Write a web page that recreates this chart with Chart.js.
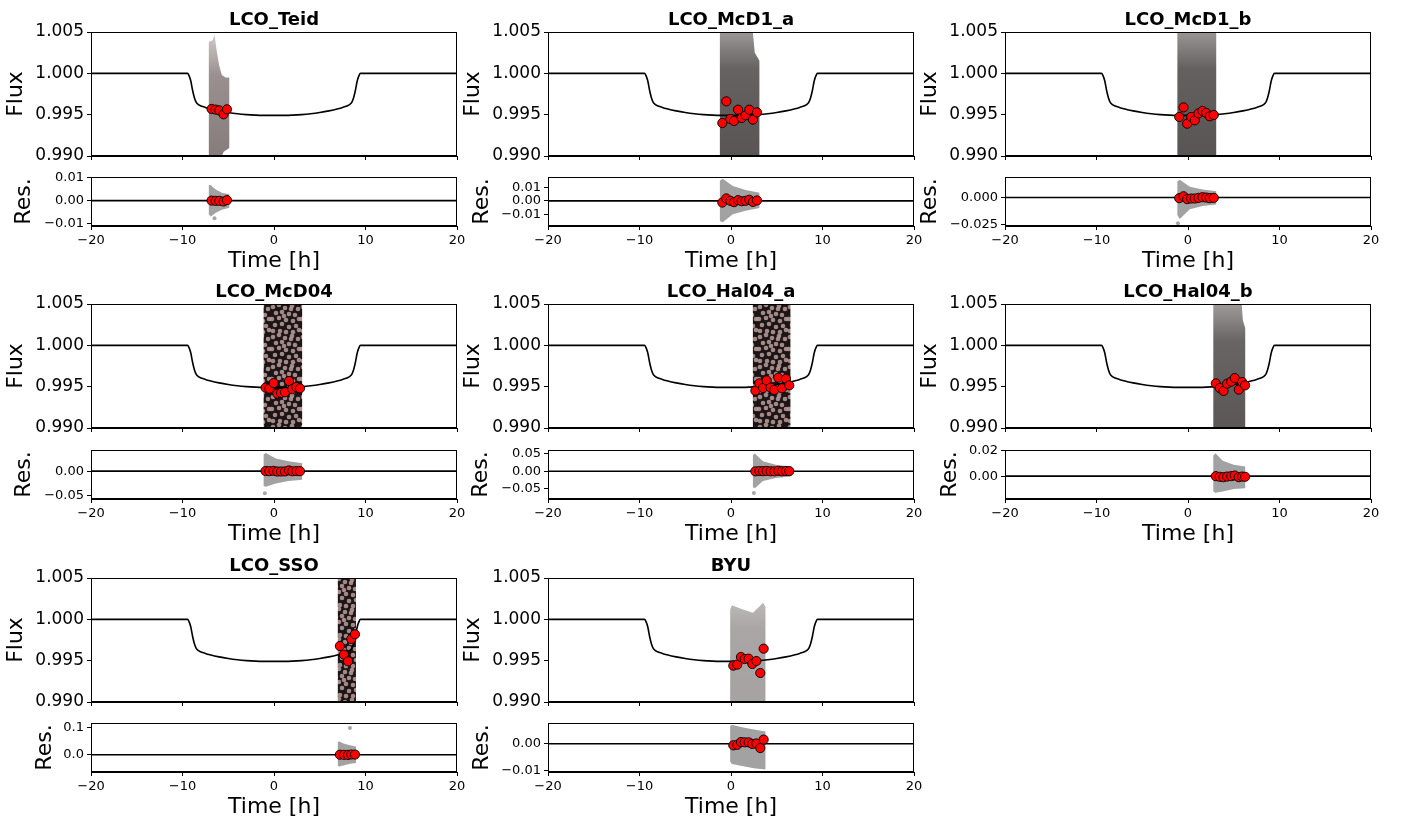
<!DOCTYPE html>
<html>
<head>
<meta charset="utf-8">
<script src="https://cdn.jsdelivr.net/npm/chart.js@4.4.1/dist/chart.umd.min.js"></script>
<style>
  html, body { margin: 0; background: #fff; }
  #fig { position: relative; width: 1406px; height: 828px; overflow: hidden; }
  #fig canvas { position: absolute; }
</style>
</head>
<body>
<div id="fig"></div>
<script>
// ===============================
// DATA
// ===============================
const titles = ['LCO_Teid', 'LCO_McD1_a', 'LCO_McD1_b', 'LCO_McD04', 'LCO_Hal04_a', 'LCO_Hal04_b', 'LCO_SSO', 'BYU'];

// transit model (same for every panel)
const modelTime = [-20, -9.45, -9.3, -9.1, -8.9, -8.7, -8.5, -8.3, -8.1, -7.5, -7, -6, -5, -4, -3, -2, -1, 0,
  1, 2, 3, 4, 5, 6, 7, 7.5, 8.1, 8.3, 8.5, 8.7, 8.9, 9.1, 9.3, 9.45, 20];
const modelFlux = [1.0, 1.0, 0.99975, 0.9991, 0.99795, 0.99705, 0.9965, 0.99625, 0.99612, 0.99588, 0.99572, 0.99546, 0.99526, 0.99511, 0.99501, 0.99495, 0.99492, 0.99491,
  0.99492, 0.99495, 0.99501, 0.99511, 0.99526, 0.99546, 0.99572, 0.99588, 0.99612, 0.99625, 0.9965, 0.99705, 0.99795, 0.9991, 0.99975, 1.0, 1.0];

// binned points (red)
const binTime = [
  [-6.82, -6.38, -5.98, -5.51, -5.14],
  [-0.95, -0.51, -0.07, 0.33, 0.77, 1.17, 1.60, 2.00, 2.40, 2.84],
  [-0.96, -0.49, -0.09, 0.35, 0.74, 1.15, 1.58, 1.99, 2.38, 2.82],
  [-0.92, -0.51, -0.04, 0.36, 0.77, 1.20, 1.64, 2.00, 2.44, 2.84],
  [2.66, 3.10, 3.50, 3.90, 4.33, 4.73, 5.17, 5.57, 6.00, 6.37],
  [3.04, 3.47, 3.88, 4.28, 4.72, 5.11, 5.55, 5.92, 6.24],
  [7.20, 7.65, 8.09, 8.45, 8.85],
  [0.25, 0.69, 1.09, 1.50, 1.93, 2.33, 2.77, 3.20, 3.57]
];
const binFlux = [
  [0.99569, 0.99561, 0.99552, 0.99504, 0.99565],
  [0.99399, 0.99661, 0.99448, 0.99424, 0.99560, 0.99460, 0.99492, 0.99560, 0.99440, 0.99528],
  [0.99472, 0.99588, 0.99391, 0.99472, 0.99431, 0.99516, 0.99545, 0.99521, 0.99480, 0.99496],
  [0.99488, 0.99476, 0.99544, 0.99416, 0.99424, 0.99432, 0.99568, 0.99472, 0.99496, 0.99480],
  [0.99452, 0.99540, 0.99484, 0.99576, 0.99488, 0.99460, 0.99608, 0.99480, 0.99596, 0.99516],
  [0.99540, 0.99484, 0.99448, 0.99536, 0.99560, 0.99604, 0.99464, 0.99556, 0.99516],
  [0.99677, 0.99573, 0.99492, 0.99762, 0.99819],
  [0.99440, 0.99452, 0.99544, 0.99520, 0.99524, 0.99460, 0.99496, 0.99351, 0.99645]
];
const binRes = [
  [0.0000, -0.0001, -0.0001, -0.0004, 0.0002],
  [-0.0013, 0.0018, 0.0000, -0.0010, 0.0005, -0.0003, 0.0000, 0.0008, -0.0008, 0.0003],
  [-0.0006, 0.0012, -0.0015, -0.0009, -0.0009, -0.0003, 0.0003, 0.0000, -0.0006, -0.0003],
  [0.0003, 0.0000, 0.0006, -0.0007, -0.0007, -0.0005, 0.0014, -0.0002, 0.0002, 0.0000],
  [-0.0004, 0.0004, 0.0000, 0.0008, -0.0002, -0.0004, 0.0010, -0.0002, 0.0006, 0.0002],
  [0.0000, -0.0005, -0.0008, -0.0003, 0.0000, 0.0005, -0.0008, -0.0003, -0.0005],
  [0.0000, -0.0005, -0.0008, 0.0008, 0.0005],
  [-0.0006, -0.0004, 0.0006, 0.0005, 0.0005, -0.0001, 0.0001, -0.0016, 0.0015]
];

// raw data envelope (grey band) in the flux panels
const rawTopTime = [
  [-7.15, -6.7, -6.5, -6.3, -6.0, -5.7, -5.3, -4.86],
  [-1.24, 2.3, 2.6, 3.13],
  [-1.18, 3.11],
  [-1.16, 3.10],
  [2.37, 6.52],
  [2.75, 5.8, 6.0, 6.28],
  [6.95, 8.96],
  [-0.1, 0.1, 1.3, 2.4, 3.5, 3.79]
];
const rawTopFlux = [
  [1.0038, 1.0040, 1.0047, 1.0030, 1.0010, 0.9998, 0.9995, 0.9995],
  [1.006, 1.006, 1.0025, 1.0015],
  [1.006, 1.006],
  [1.006, 1.006],
  [1.006, 1.006],
  [1.006, 1.006, 1.003, 1.002],
  [1.006, 1.006],
  [1.0012, 1.0017, 1.0012, 1.0008, 1.0020, 1.0015]
];
const rawBottomTime = [
  [-7.15, -5.9, -5.5, -4.86],
  [-1.24, 3.13],
  [-1.18, 3.11],
  [-1.16, 3.10],
  [2.37, 6.52],
  [2.75, 6.28],
  [6.95, 8.96],
  [-0.1, 3.79]
];
const rawBottomFlux = [
  [0.9895, 0.9895, 0.9905, 0.9910],
  [0.989, 0.989],
  [0.989, 0.989],
  [0.989, 0.989],
  [0.989, 0.989],
  [0.989, 0.989],
  [0.989, 0.989],
  [0.9897, 0.9897]
];

// raw residual envelope
const resEnvTime = [
  [-7.15, -6.9, -6.4, -5.7, -4.86],
  [-1.24, -0.9, 0.2, 1.6, 3.13],
  [-1.18, -0.9, 0.2, 1.6, 3.11],
  [-1.16, -0.9, 0.2, 1.6, 3.10],
  [2.37, 2.6, 3.5, 4.9, 6.52],
  [2.75, 3.0, 3.8, 5.0, 6.28],
  [6.95, 7.1, 7.6, 8.3, 8.96],
  [-0.1, 0.1, 1.2, 2.5, 3.79]
];
const resEnvHigh = [
  [0.0070, 0.0068, 0.0050, 0.0035, 0.0028],
  [0.0150, 0.0165, 0.0110, 0.0080, 0.0060],
  [0.0150, 0.0167, 0.0100, 0.0075, 0.0059],
  [0.034, 0.037, 0.026, 0.020, 0.016],
  [0.045, 0.050, 0.028, 0.018, 0.013],
  [0.016, 0.018, 0.012, 0.009, 0.0075],
  [0.045, 0.050, 0.042, 0.035, 0.031],
  [0.0065, 0.0070, 0.0060, 0.0052, 0.0045]
];
const resEnvLow = [
  [-0.0060, -0.0070, -0.0055, -0.0040, -0.0031],
  [-0.0150, -0.0160, -0.0100, -0.0075, -0.0054],
  [-0.016, -0.020, -0.011, -0.008, -0.0065],
  [-0.030, -0.032, -0.025, -0.020, -0.0176],
  [-0.045, -0.048, -0.028, -0.019, -0.015],
  [-0.012, -0.013, -0.012, -0.010, -0.0094],
  [-0.040, -0.044, -0.040, -0.034, -0.031],
  [-0.0065, -0.0075, -0.0082, -0.0090, -0.0095]
];
// isolated residual outliers
const resOutTime = [[-6.5], [], [-1.1], [-1.0], [2.5], [], [8.3], []];
const resOutValue = [[-0.0078], [], [-0.024], [-0.045], [-0.062], [], [0.1], []];

// axes
const timeTicks = [-20, -10, 0, 10, 20];
const fluxTicks = [0.990, 0.995, 1.000, 1.005];
const resMin = [-0.0112, -0.0188, -0.0266, -0.0567, -0.0787, -0.0179, -0.0648, -0.0104];
const resMax = [0.0104, 0.0178, 0.0192, 0.0431, 0.0600, 0.0205, 0.1187, 0.0076];
const resTicks = [[-0.01, 0, 0.01], [-0.01, 0, 0.01], [-0.025, 0], [-0.05, 0], [-0.05, 0, 0.05], [0, 0.02], [0, 0.1], [-0.01, 0]];
const resDecimals = [2, 2, 3, 2, 2, 2, 1, 2];

// ===============================
// STYLE / LAYOUT
// ===============================
const FONT = '"DejaVu Sans", sans-serif';
const colLeft = [91, 548, 1005];
const fluxTop = [32, 304, 578];
const resTop = [177, 450, 723];
const PLOT_W = 366, FLUX_H = 124, RES_H = 49, AXIS_W = 90, RIGHT_PAD = 16;
// vertical gradient stops for the raw-data band, or 'dots' for the dense mottled bands
const bandStyle = [
  [[0, '#d4cccc'], [0.35, '#9a9090'], [1, '#867c7c']],
  [[0, '#9c9797'], [0.3, '#676262'], [1, '#5a5555']],
  [[0, '#9a9595'], [0.3, '#656060'], [1, '#5a5555']],
  'dots', 'dots',
  [[0, '#a09b9b'], [0.3, '#6a6565'], [1, '#5c5757']],
  'dots',
  [[0, '#d0cccc'], [0.4, '#aaa6a6'], [1, '#a6a2a2']]
];
// texture tile (30x30) for the dense bands
const dotTile = [[2, 3], [8, 1], [14, 4], [21, 2], [27, 5], [5, 9], [11, 8], [18, 10], [24, 11], [1, 15], [8, 14], [15, 16],
  [22, 17], [28, 15], [4, 21], [11, 20], [18, 23], [25, 22], [2, 27], [9, 27], [15, 28], [22, 28], [28, 26], [13, 12], [20, 5]];
const resBandColor = '#a2a2a2';
const resLabelPad = [10, 11, 2.5, 10, 10.5, 22, 31, 11];

const framePlugin = {
  id: 'frame',
  afterDraw(chart, args, opts) {
    const { ctx, chartArea: a } = chart;
    ctx.save();
    ctx.strokeStyle = '#000';
    ctx.lineWidth = 1;
    const l = Math.round(a.left) + 0.5, t = Math.round(a.top) + 0.5;
    const r = Math.round(a.right) - 0.5, b = Math.round(a.bottom) - 0.5;
    ctx.strokeRect(l, t, r - l, b - t);
    if (opts.title) {
      ctx.font = 'bold 18px ' + FONT;
      ctx.fillStyle = '#000';
      ctx.textAlign = 'center';
      ctx.textBaseline = 'alphabetic';
      ctx.fillText(opts.title, (a.left + a.right) / 2, a.top - 7);
    }
    ctx.restore();
  }
};

// ===============================
// HELPERS
// ===============================
function fmt(v, dec) {
  const s = Math.abs(v).toFixed(dec);
  return (v < 0 && Number(s) !== 0 ? '\u2212' : '') + s;
}

function points(xs, ys) {
  return xs.map((x, i) => ({ x, y: ys[i] }));
}

function addCanvas(left, top, w, h) {
  const c = document.createElement('canvas');
  c.width = w; c.height = h;
  c.style.left = left + 'px';
  c.style.top = top + 'px';
  c.style.width = w + 'px';
  c.style.height = h + 'px';
  document.getElementById('fig').appendChild(c);
  return c;
}

let dotPattern = null;
function getDotPattern(ctx) {
  if (dotPattern) return dotPattern;
  const n = 30;
  const tile = document.createElement('canvas');
  tile.width = n; tile.height = n;
  const t = tile.getContext('2d');
  t.fillStyle = '#1c1515';
  t.fillRect(0, 0, n, n);
  t.fillStyle = 'rgba(186,156,154,0.85)';
  dotTile.forEach(([x, y]) => {
    for (const dx of [-n, 0, n]) for (const dy of [-n, 0, n]) {
      t.beginPath();
      t.arc(x + dx, y + dy, 2.3, 0, Math.PI * 2);
      t.fill();
    }
  });
  dotPattern = ctx.createPattern(tile, 'repeat');
  return dotPattern;
}

function bandFill(style) {
  return context => {
    const chart = context.chart;
    const a = chart.chartArea;
    if (!a) return '#777';
    if (style === 'dots') return getDotPattern(chart.ctx);
    const g = chart.ctx.createLinearGradient(0, a.top, 0, a.bottom);
    style.forEach(([s, c]) => g.addColorStop(s, c));
    return g;
  };
}

function gridOpts() {
  return { display: true, drawOnChartArea: false, drawTicks: true, tickLength: 4, tickColor: '#000', tickWidth: 1 };
}

function fixedTicks(values) {
  return s => { s.ticks = values.map(v => ({ value: v })); };
}

function redDataset(xs, ys) {
  return {
    data: points(xs, ys), showLine: false, order: 0,
    pointRadius: 4.6, pointHoverRadius: 4.6,
    pointBackgroundColor: '#ff0000', pointBorderColor: '#000', pointBorderWidth: 0.9
  };
}

function lineDataset(xs, ys, smooth) {
  return {
    data: points(xs, ys), showLine: true, order: 1,
    borderColor: '#000', borderWidth: 1.6, pointRadius: 0,
    cubicInterpolationMode: smooth ? 'monotone' : 'default', fill: false
  };
}

function bandDatasets(tx, ty, bx, by, color) {
  return [
    { data: points(tx, ty), showLine: true, order: 2, borderWidth: 0, pointRadius: 0, fill: '+1', backgroundColor: color, borderColor: 'rgba(0,0,0,0)' },
    { data: points(bx, by), showLine: true, order: 3, borderWidth: 0, pointRadius: 0, fill: false, borderColor: 'rgba(0,0,0,0)' }
  ];
}

const baseOptions = () => ({
  responsive: false, animation: false, devicePixelRatio: 1,
  plugins: { legend: { display: false }, tooltip: { enabled: false } },
  events: []
});

// ===============================
// PANELS
// ===============================
function renderFlux(i) {
  const left = colLeft[i % 3] - AXIS_W, top = fluxTop[Math.floor(i / 3)] - 30;
  const canvas = addCanvas(left, top, AXIS_W + PLOT_W + RIGHT_PAD, 30 + FLUX_H + 16);
  const opts = baseOptions();
  opts.layout = { padding: { top: 30, right: RIGHT_PAD, left: 0, bottom: 0 } };
  opts.plugins.frame = { title: titles[i] };
  opts.scales = {
    x: {
      type: 'linear', min: -20, max: 20,
      afterBuildTicks: fixedTicks(timeTicks),
      afterFit: s => { s.height = 16; },
      ticks: { display: false },
      grid: gridOpts(), border: { display: true, color: '#000', width: 1 }
    },
    y: {
      type: 'linear', min: 0.990, max: 1.005,
      afterBuildTicks: fixedTicks(fluxTicks),
      afterFit: s => { s.width = AXIS_W; },
      ticks: { callback: v => fmt(v, 3), font: { family: FONT, size: 17 }, color: '#000', padding: 3 },
      grid: gridOpts(), border: { display: true, color: '#000', width: 1 },
      title: { display: true, text: 'Flux', font: { family: FONT, size: 22 }, color: '#000', padding: { top: 2.5, bottom: 0 } }
    }
  };
  new Chart(canvas.getContext('2d'), {
    type: 'line',
    data: {
      datasets: [
        redDataset(binTime[i], binFlux[i]),
        lineDataset(modelTime, modelFlux, true),
        ...bandDatasets(rawTopTime[i], rawTopFlux[i], rawBottomTime[i], rawBottomFlux[i], bandFill(bandStyle[i]))
      ]
    },
    options: opts,
    plugins: [framePlugin]
  });
}

function renderRes(i) {
  const left = colLeft[i % 3] - AXIS_W, top = resTop[Math.floor(i / 3)] - 12;
  const canvas = addCanvas(left, top, AXIS_W + PLOT_W + RIGHT_PAD, 12 + RES_H + 50);
  const opts = baseOptions();
  opts.layout = { padding: { top: 12, right: RIGHT_PAD, left: 0, bottom: 0 } };
  opts.plugins.frame = {};
  opts.scales = {
    x: {
      type: 'linear', min: -20, max: 20,
      afterBuildTicks: fixedTicks(timeTicks),
      afterFit: s => { s.height = 50; },
      ticks: { callback: v => fmt(v, 0), font: { family: FONT, size: 13 }, color: '#000', padding: 3, maxRotation: 0, autoSkip: false },
      grid: gridOpts(), border: { display: true, color: '#000', width: 1 },
      title: { display: true, text: 'Time [h]', font: { family: FONT, size: 22 }, color: '#000', padding: { top: 0, bottom: 2 } }
    },
    y: {
      type: 'linear', min: resMin[i], max: resMax[i],
      afterBuildTicks: fixedTicks(resTicks[i]),
      afterFit: s => { s.width = AXIS_W; },
      ticks: { callback: v => fmt(v, resDecimals[i]), font: { family: FONT, size: 13 }, color: '#000', padding: 3 },
      grid: gridOpts(), border: { display: true, color: '#000', width: 1 },
      title: { display: true, text: 'Res.', font: { family: FONT, size: 22 }, color: '#000', padding: { top: resLabelPad[i], bottom: 0 } }
    }
  };
  const outliers = {
    data: points(resOutTime[i], resOutValue[i]), showLine: false, order: 2,
    pointRadius: 2, pointBackgroundColor: '#a6a6a6', pointBorderWidth: 0
  };
  new Chart(canvas.getContext('2d'), {
    type: 'line',
    data: {
      datasets: [
        redDataset(binTime[i], binRes[i]),
        lineDataset([-20, 20], [0, 0], false),
        outliers,
        ...bandDatasets(resEnvTime[i], resEnvHigh[i], resEnvTime[i], resEnvLow[i], resBandColor)
      ]
    },
    options: opts,
    plugins: [framePlugin]
  });
}

titles.forEach((t, i) => {
  renderFlux(i);
  renderRes(i);
});
</script>
</body>
</html>
